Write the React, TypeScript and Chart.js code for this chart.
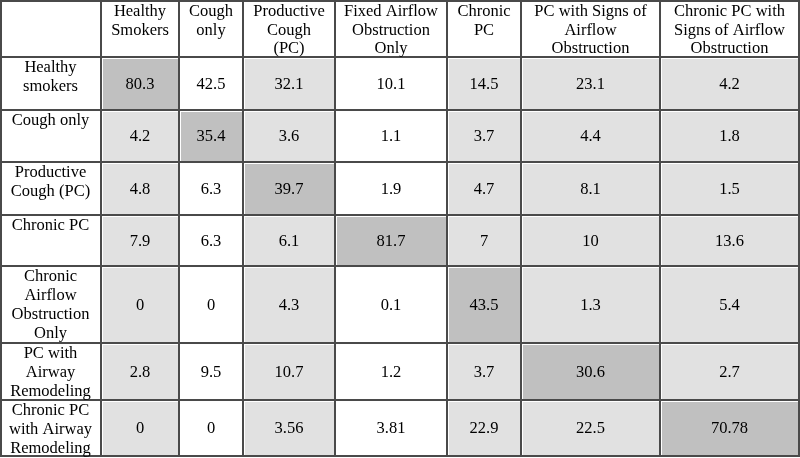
import React, { useEffect, useRef } from "react";
import { Chart, registerables } from "chart.js";

Chart.register(...registerables);

// ---- Data ----
const columnLabels: string[][] = [
  ["Healthy", "Smokers"],
  ["Cough", "only"],
  ["Productive", "Cough", "(PC)"],
  ["Fixed Airflow", "Obstruction", "Only"],
  ["Chronic", "PC"],
  ["PC with Signs of", "Airflow", "Obstruction"],
  ["Chronic PC with", "Signs of Airflow", "Obstruction"],
];

const rowLabels: string[][] = [
  ["Healthy", "smokers"],
  ["Cough only"],
  ["Productive", "Cough (PC)"],
  ["Chronic PC"],
  ["Chronic", "Airflow", "Obstruction", "Only"],
  ["PC with", "Airway", "Remodeling"],
  ["Chronic PC", "with Airway", "Remodeling"],
];

const rowHealthySmokers = [80.3, 42.5, 32.1, 10.1, 14.5, 23.1, 4.2];
const rowCoughOnly = [4.2, 35.4, 3.6, 1.1, 3.7, 4.4, 1.8];
const rowProductiveCough = [4.8, 6.3, 39.7, 1.9, 4.7, 8.1, 1.5];
const rowChronicPC = [7.9, 6.3, 6.1, 81.7, 7, 10, 13.6];
const rowChronicAirflow = [0, 0, 4.3, 0.1, 43.5, 1.3, 5.4];
const rowPCAirway = [2.8, 9.5, 10.7, 1.2, 3.7, 30.6, 2.7];
const rowChronicPCAirway = [0, 0, 3.56, 3.81, 22.9, 22.5, 70.78];

const tableValues = [
  rowHealthySmokers,
  rowCoughOnly,
  rowProductiveCough,
  rowChronicPC,
  rowChronicAirflow,
  rowPCAirway,
  rowChronicPCAirway,
];

// ---- Layout (table units on the linear scales) ----
const colEdges = [0, 101, 179, 243, 335, 447, 521, 660, 799];
const rowEdges = [0, 57, 110, 162, 215, 266, 343, 400, 456];

const FONT = '16.5px "Liberation Serif", "Times New Roman", serif';
const LINE_H = 19;
const WHITE = "#ffffff";
const LIGHT = "#e1e1e1";
const DARK = "#c0c0c0";
const GRID = "#4a4a4a";

function cellFill(r: number, c: number) {
  if (r === c) return DARK;
  if (c === 1 || c === 3) return WHITE;
  return LIGHT;
}

const tablePlugin = {
  id: "tablePlugin",
  beforeDatasetsDraw(chart: any) {
    const { ctx, scales } = chart;
    const xs = scales.x;
    const ys = scales.y;
    const px = (v: number) => xs.getPixelForValue(v);
    const py = (v: number) => ys.getPixelForValue(v);
    ctx.save();
    ctx.fillStyle = WHITE;
    ctx.fillRect(px(0), py(0), px(colEdges[8]) - px(0), py(rowEdges[8]) - py(0));
    for (let r = 0; r < tableValues.length; r++) {
      for (let c = 0; c < tableValues[r].length; c++) {
        const x0 = px(colEdges[c + 1]);
        const x1 = px(colEdges[c + 2]);
        const y0 = py(rowEdges[r + 1]);
        const y1 = py(rowEdges[r + 2]);
        ctx.fillStyle = cellFill(r, c);
        ctx.fillRect(x0 + 2, y0 + 2, x1 - x0 - 3, y1 - y0 - 3);
      }
    }
    ctx.strokeStyle = GRID;
    ctx.lineWidth = 2;
    for (const e of colEdges) {
      const x = Math.round(px(e)) + (e === 0 ? 1 : 0);
      ctx.beginPath();
      ctx.moveTo(x, py(rowEdges[0]));
      ctx.lineTo(x, py(rowEdges[8]) + 1);
      ctx.stroke();
    }
    for (const e of rowEdges) {
      const y = Math.round(py(e)) + (e === 0 ? 1 : 0);
      ctx.beginPath();
      ctx.moveTo(px(colEdges[0]), y);
      ctx.lineTo(px(colEdges[8]) + 1, y);
      ctx.stroke();
    }
    ctx.restore();
  },
  afterDatasetsDraw(chart: any) {
    const { ctx, scales } = chart;
    const xs = scales.x;
    const ys = scales.y;
    const px = (v: number) => xs.getPixelForValue(v);
    const py = (v: number) => ys.getPixelForValue(v);
    ctx.save();
    ctx.font = FONT;
    ctx.fillStyle = "#000000";
    ctx.textAlign = "center";
    ctx.textBaseline = "middle";
    columnLabels.forEach((lines, c) => {
      const cx = (px(colEdges[c + 1]) + px(colEdges[c + 2])) / 2;
      const top = py(rowEdges[0]) + 12;
      lines.forEach((t, i) => ctx.fillText(t, cx, top + i * 18.5));
    });
    rowLabels.forEach((lines, r) => {
      const cx = (px(colEdges[0]) + px(colEdges[1])) / 2;
      const top = py(rowEdges[r + 1]) + 11;
      lines.forEach((t, i) => ctx.fillText(t, cx, top + i * LINE_H));
    });
    chart.data.datasets.forEach((ds: any, di: number) => {
      const meta = chart.getDatasetMeta(di);
      meta.data.forEach((pt: any, i: number) => {
        ctx.fillText(String(ds.data[i].v), pt.x, pt.y + 1);
      });
    });
    ctx.restore();
  },
};

export default function App() {
  const canvasRef = useRef<HTMLCanvasElement | null>(null);

  useEffect(() => {
    document.body.style.margin = "0";
    const canvas = canvasRef.current;
    if (!canvas) return;
    const datasets = tableValues.map((row, r) => ({
      label: rowLabels[r].join(" "),
      data: row.map((v, c) => ({
        x: (colEdges[c + 1] + colEdges[c + 2]) / 2,
        y: (rowEdges[r + 1] + rowEdges[r + 2]) / 2,
        v,
      })),
      pointRadius: 0,
      pointHoverRadius: 0,
    }));
    const chart = new Chart(canvas, {
      type: "scatter",
      data: { datasets } as any,
      options: {
        animation: false,
        responsive: false,
        devicePixelRatio: 1,
        layout: { padding: 0 },
        plugins: { legend: { display: false }, tooltip: { enabled: false } },
        events: [],
        scales: {
          x: { type: "linear", min: 0, max: 800, display: false },
          y: { type: "linear", min: 0, max: 458, reverse: true, display: false },
        },
      },
      plugins: [tablePlugin],
    });
    return () => chart.destroy();
  }, []);

  return (
    <div style={{ width: 800, height: 458, background: "#fff" }}>
      <canvas ref={canvasRef} width={800} height={458} />
    </div>
  );
}
